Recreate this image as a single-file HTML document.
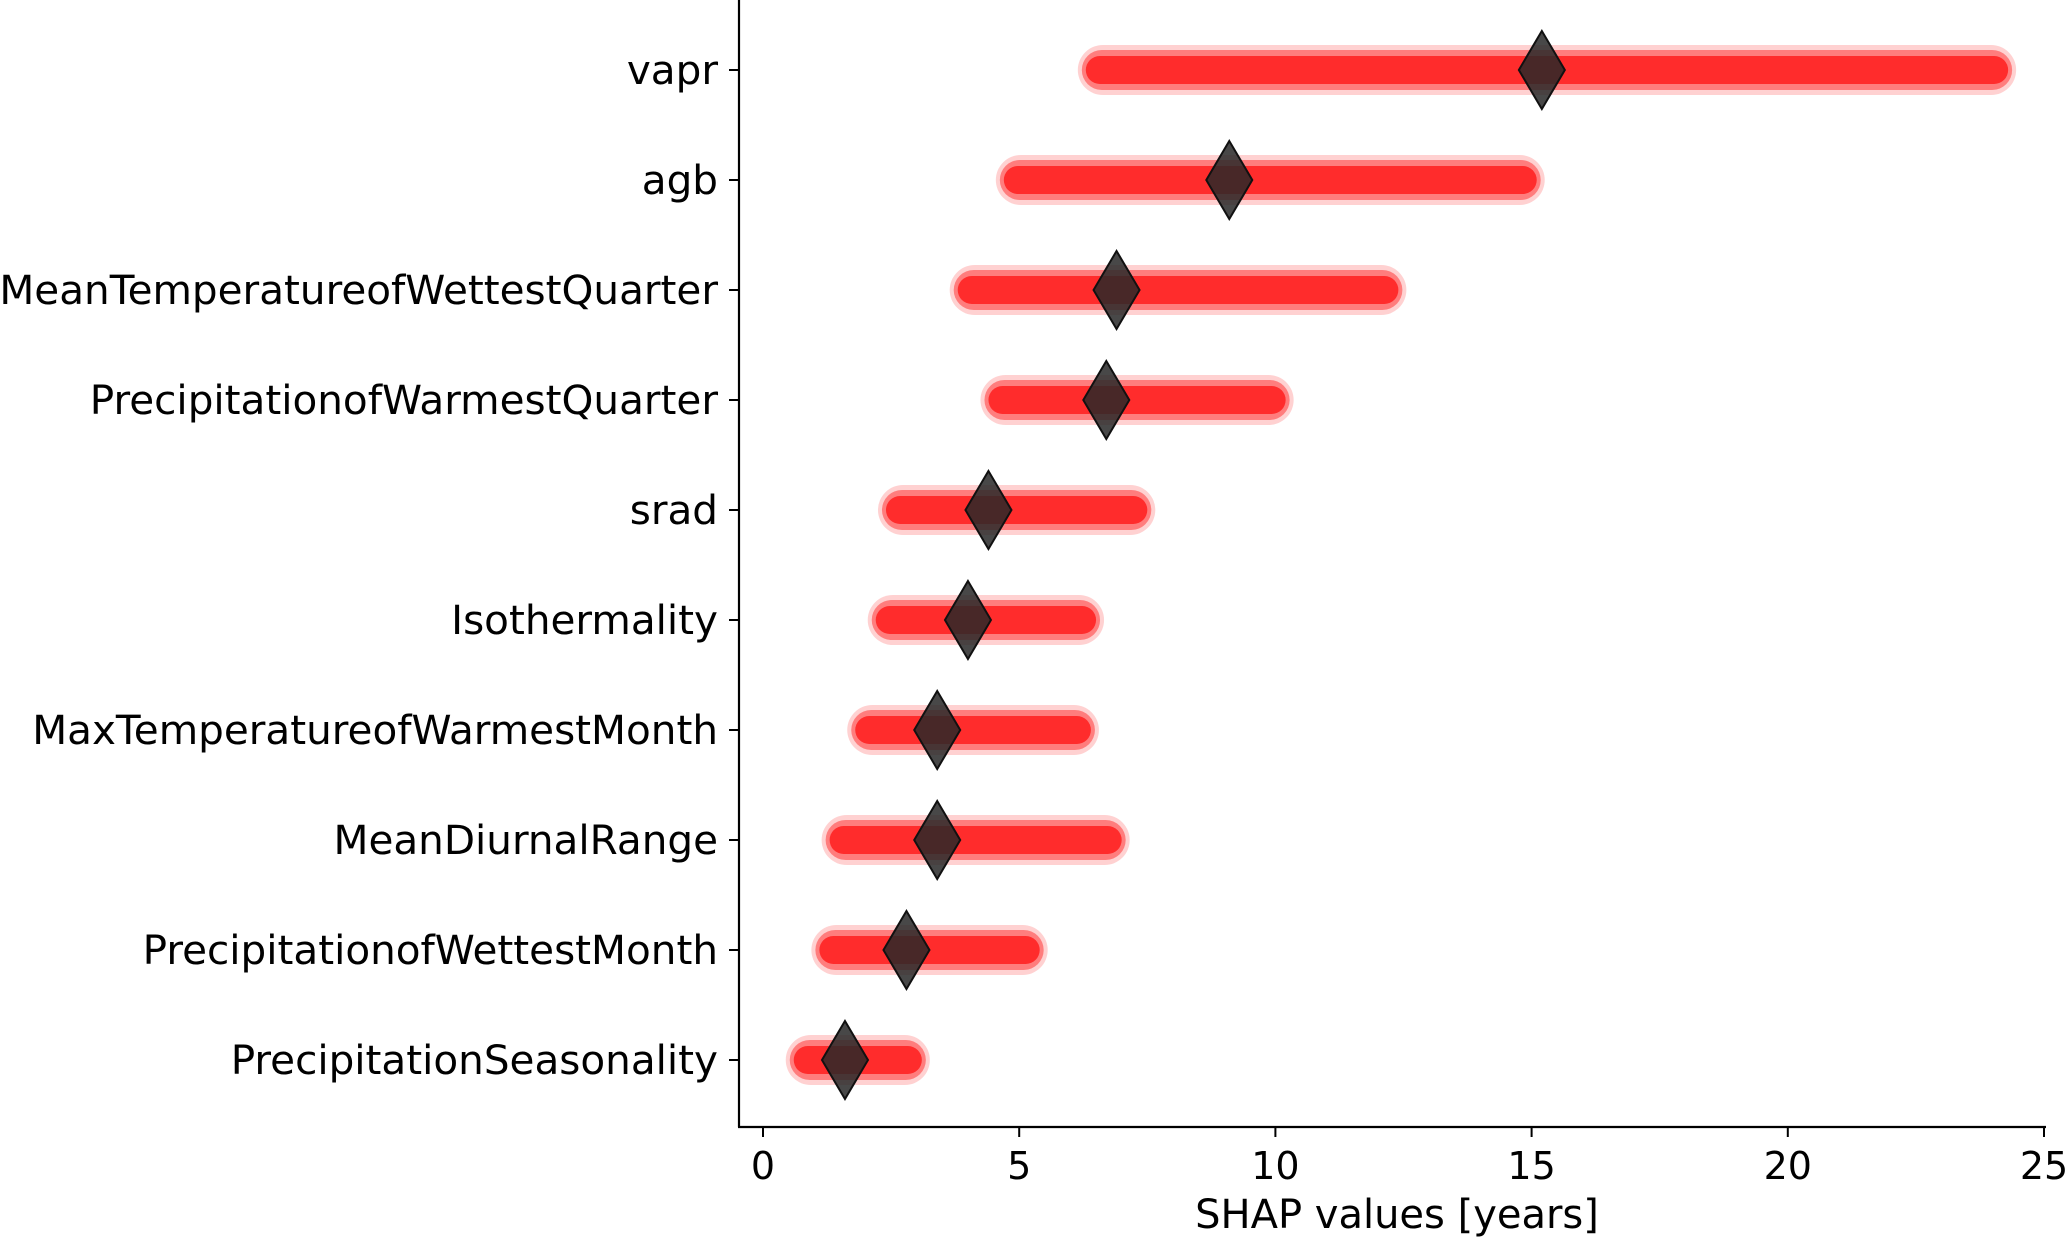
<!DOCTYPE html>
<html><head><meta charset="utf-8"><style>
html,body{margin:0;padding:0;background:#fff;}
svg text{font-family:"DejaVu Sans","Liberation Sans",sans-serif;fill:#000;}
</style></head><body>
<svg id="chart" width="2066" height="1239" viewBox="0 0 2066 1239" xmlns="http://www.w3.org/2000/svg">
<g id="plot"></g>
<line x1="739" y1="0" x2="739" y2="1127" stroke="#000" stroke-width="2.2"/>
<line x1="738" y1="1127" x2="2046" y2="1127" stroke="#000" stroke-width="2.2"/>
<text x="1397" y="1228" font-size="40" text-anchor="middle">SHAP values [years]</text>
</svg>
<script>
const features = ["vapr","agb","MeanTemperatureofWettestQuarter","PrecipitationofWarmestQuarter","srad","Isothermality","MaxTemperatureofWarmestMonth","MeanDiurnalRange","PrecipitationofWettestMonth","PrecipitationSeasonality"];
const minVals = [6.3,4.7,3.8,4.4,2.4,2.2,1.8,1.3,1.1,0.6];
const maxVals = [24.3,15.1,12.4,10.2,7.5,6.5,6.4,7.0,5.4,3.1];
const meanVals = [15.2,9.1,6.9,6.7,4.4,4.0,3.4,3.4,2.8,1.6];
const xTicks = [0,5,10,15,20,25];

const NS="http://www.w3.org/2000/svg";
const svg=document.getElementById('chart');
const plot=document.getElementById('plot');
const x=v=>763+v*(2044-763)/25;
const y=i=>70+i*110;
function mk(tag,attrs,parent){const e=document.createElementNS(NS,tag);for(const k in attrs)e.setAttribute(k,attrs[k]);(parent||svg).appendChild(e);return e;}

xTicks.forEach(t=>{
  const tk=mk('line',{x1:x(t),x2:x(t),y1:1127,y2:1137,stroke:'#000','stroke-width':2});
  
  
  const tl=mk('text',{x:x(t),y:1179,'font-size':38,'text-anchor':'middle'});
  tl.textContent=t;
  
  
});

features.forEach((f,i)=>{
  const yc=y(i);
  const tk=mk('line',{x1:729,x2:739,y1:yc,y2:yc,stroke:'#000','stroke-width':2});
  
  
  const lb=mk('text',{x:718,y:yc+14,'font-size':40.5,'text-anchor':'end'});
  lb.textContent=f;
  
  
  const x0=x(minVals[i]),x1=x(maxVals[i]);
  const g=mk('g',{},plot);
  
  
  mk('rect',{x:x0-8,y:yc-25,width:x1-x0+16,height:50,rx:25,fill:'rgba(255,0,0,0.18)'},g);
  mk('rect',{x:x0-4,y:yc-20,width:x1-x0+8,height:40,rx:20,fill:'rgba(255,0,0,0.4)'},g);
  mk('rect',{x:x0,y:yc-14,width:x1-x0,height:28,rx:14,fill:'rgba(255,10,10,0.7)'},g);
  const xm=x(meanVals[i]);
  const d=mk('polygon',{points:`${xm},${yc-39} ${xm+23},${yc} ${xm},${yc+39} ${xm-23},${yc}`,fill:'rgba(40,40,40,0.85)',stroke:'#111','stroke-width':2});
  
  
});
</script>
</body></html>
